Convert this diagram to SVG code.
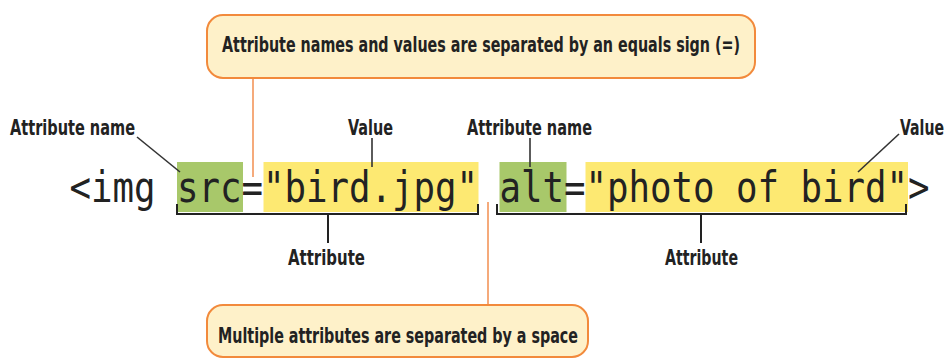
<svg xmlns="http://www.w3.org/2000/svg" width="950" height="363" viewBox="0 0 950 363">
<style>
.lbl{font-family:"DejaVu Sans Condensed","DejaVu Sans",sans-serif;font-stretch:condensed;font-weight:bold;font-size:21.5px;fill:#222}
.box{fill:#fef1c9;stroke:#f28a3c;stroke-width:2}
.lead{stroke:#333;stroke-width:1.6;fill:none}
.org{stroke:#f3955a;stroke-width:1.6;fill:none}
.code{font-family:"DejaVu Sans Mono","Liberation Mono",monospace;font-size:42px;fill:#222}
.brk{stroke:#222;stroke-width:2;fill:none}
</style>
<rect width="950" height="363" fill="#fff"/>
<g id="highlights">
<rect x="177" y="162" width="66" height="50" fill="#a8c86a"/>
<rect x="263.5" y="162" width="215" height="50" fill="#fde972"/>
<rect x="499.5" y="162" width="67" height="50" fill="#a8c86a"/>
<rect x="585.5" y="162" width="322.5" height="50" fill="#fde972"/>
</g>
<g id="code">
<text class="code" x="69.5" y="202" textLength="860" lengthAdjust="spacingAndGlyphs">&lt;img src="bird.jpg" alt="photo of bird"&gt;</text>
</g>
<g id="connectors">
<line class="org" x1="253" y1="78" x2="253" y2="177"/>
<line class="org" x1="488" y1="202" x2="488" y2="305"/>
<line class="lead" x1="137" y1="137" x2="180" y2="172"/>
<line class="lead" x1="372" y1="138" x2="372" y2="167"/>
<line class="lead" x1="530" y1="138" x2="530" y2="167"/>
<line class="lead" x1="899" y1="134" x2="858" y2="172"/>
<path class="brk" d="M177 204 V214 H478 V204 M328 214 V243"/>
<path class="brk" d="M497 204 V214 H906 V204 M701 214 V243"/>
</g>
<g id="top-note">
<rect class="box" x="207" y="15" width="548" height="63" rx="16"/>
<text class="lbl" x="222" y="52" textLength="518" lengthAdjust="spacingAndGlyphs">Attribute names and values are separated by an equals sign (=)</text>
</g>
<g id="bottom-note">
<rect class="box" x="207" y="305" width="381" height="52" rx="16"/>
<text class="lbl" x="218" y="343" textLength="360" lengthAdjust="spacingAndGlyphs">Multiple attributes are separated by a space</text>
</g>
<g id="label-name1"><text class="lbl" x="10" y="135" textLength="125" lengthAdjust="spacingAndGlyphs">Attribute name</text></g>
<g id="label-value1"><text class="lbl" x="348" y="135" textLength="45" lengthAdjust="spacingAndGlyphs">Value</text></g>
<g id="label-name2"><text class="lbl" x="467" y="135" textLength="125" lengthAdjust="spacingAndGlyphs">Attribute name</text></g>
<g id="label-value2"><text class="lbl" x="900" y="135" textLength="44" lengthAdjust="spacingAndGlyphs">Value</text></g>
<g id="label-attr1"><text class="lbl" x="288" y="265" textLength="77" lengthAdjust="spacingAndGlyphs">Attribute</text></g>
<g id="label-attr2"><text class="lbl" x="665" y="265" textLength="73" lengthAdjust="spacingAndGlyphs">Attribute</text></g>
</svg>
